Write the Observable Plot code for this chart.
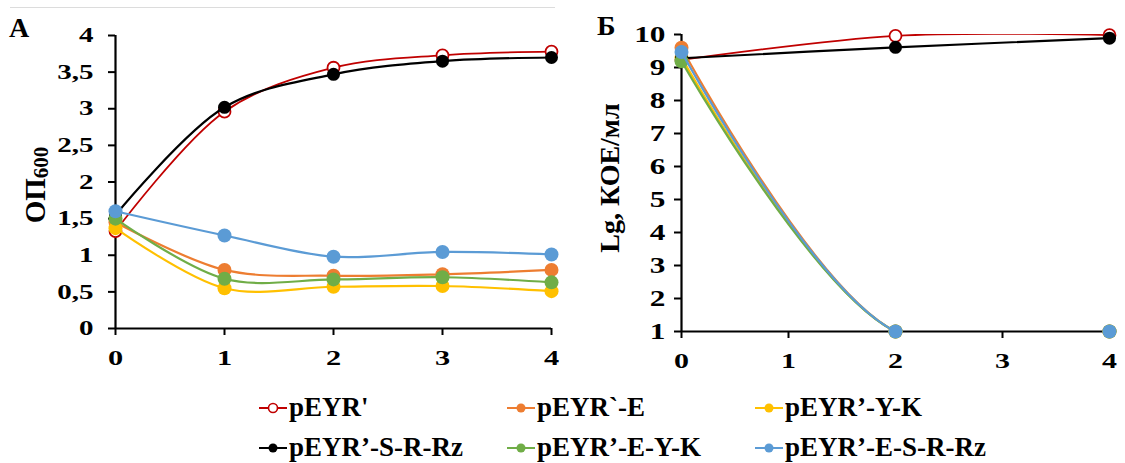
<!DOCTYPE html>
<html>
<head>
<meta charset="utf-8">
<script src="https://cdn.jsdelivr.net/npm/d3@7"></script>
<script src="https://cdn.jsdelivr.net/npm/@observablehq/plot@0.6"></script>
<style>
  html, body { margin: 0; padding: 0; background: #fff; }
  #root { position: relative; width: 1125px; height: 463px; overflow: hidden;
          font-family: "Liberation Serif", "Times New Roman", serif; font-weight: bold; color: #000; }
  .panel { position: absolute; top: 0; }
  .topline { position: absolute; left: 10px; top: 7px; width: 545px; height: 1px; background: #dcdcdc; }
  .plabel { position: absolute; font-size: 28px; font-weight: bold; line-height: 1; }
  .leg { position: absolute; display: flex; align-items: center; font-size: 27px; white-space: nowrap; line-height: 1; }
  .leg svg { margin-right: 1px; }
</style>
</head>
<body>
<div id="root">
  <div class="topline"></div>
  <div class="plabel" style="left:9px; top:14px;">А</div>
  <div class="plabel" style="left:597px; top:12px;">Б</div>
</div>
<script>
// ---- data ----
const seriesNames = ["pEYR'", "pEYR`-E", "pEYR’-Y-K", "pEYR’-S-R-Rz", "pEYR’-E-Y-K", "pEYR’-E-S-R-Rz"];
const seriesColors = ["#C00000", "#ED7D31", "#FFC000", "#000000", "#70AD47", "#5B9BD5"];

// Panel A: OD600 by day
const daysA = [0, 1, 2, 3, 4];
const odRed    = [1.33, 2.96, 3.56, 3.73, 3.78];
const odOrange = [1.45, 0.80, 0.72, 0.74, 0.80];
const odYellow = [1.37, 0.55, 0.57, 0.58, 0.51];
const odBlack  = [1.55, 3.02, 3.47, 3.65, 3.70];
const odGreen  = [1.50, 0.68, 0.67, 0.70, 0.63];
const odBlue   = [1.60, 1.27, 0.98, 1.045, 1.01];

// Panel Б: Lg CFU/ml by day
const daysB = [0, 2, 4];
const cfuRed    = [9.23, 9.96, 9.98];
const cfuOrange = [9.60, 1.0, 1.0];
const cfuYellow = [9.30, 1.0, 1.0];
const cfuBlack  = [9.28, 9.61, 9.89];
const cfuGreen  = [9.19, 1.0, 1.0];
const cfuBlue   = [9.47, 1.0, 1.0];

const xTicks = [0, 1, 2, 3, 4];
const yTicksA = [0, 0.5, 1, 1.5, 2, 2.5, 3, 3.5, 4];
const yTicksB = [1, 2, 3, 4, 5, 6, 7, 8, 9, 10];

// ---- build tables ----
const seriesA = [odRed, odOrange, odYellow, odBlack, odGreen, odBlue];
const seriesB = [cfuRed, cfuOrange, cfuYellow, cfuBlack, cfuGreen, cfuBlue];
function table(xs, sets) {
  return sets.map((vals, i) => vals.map((v, j) => ({series: seriesNames[i], x: xs[j], y: v})));
}
const tabA = table(daysA, seriesA);
const tabB = table(daysB, seriesB);

const fmt = d => String(d).replace(".", ",");
const FONT = "'Liberation Serif', 'Times New Roman', serif";
const dotR = [6, 7, 7, 6.5, 7, 7];

function seriesMarks(tab, clip) {
  return tab.flatMap((rows, i) => {
    const open = i === 0;
    return [
      Plot.line(rows, {x: "x", y: "y", stroke: seriesColors[i], strokeWidth: open ? 1.8 : 2.2, curve: "catmull-rom", clip}),
      Plot.dot(rows, {x: "x", y: "y", r: dotR[i],
        fill: open ? "#fff" : seriesColors[i],
        stroke: seriesColors[i], strokeWidth: open ? 1.8 : 0})
    ];
  });
}

function panel(opts) {
  return Plot.plot({
    width: opts.width, height: 380,
    marginLeft: opts.ml, marginRight: opts.mr, marginTop: opts.mt, marginBottom: opts.mb,
    style: {fontFamily: FONT, fontWeight: "bold", color: "#000", background: "transparent", overflow: "visible"},
    x: {domain: [0, 4]},
    y: {domain: opts.ydomain},
    marks: [
      Plot.axisY({ticks: opts.yticks, tickFormat: fmt, tickSize: 7, tickPadding: opts.ypad, strokeWidth: 2, label: null, fontSize: opts.yfs}),
      Plot.axisX({ticks: xTicks, tickFormat: fmt, tickSize: 7, tickPadding: 14, strokeWidth: 2, label: null, fontSize: 22}),
      Plot.ruleX([0], {stroke: "#000", strokeWidth: 2.2}),
      Plot.ruleY([opts.ydomain[0]], {stroke: "#000", strokeWidth: 2.2}),
      ...seriesMarks(opts.tab, opts.clip)
    ]
  });
}

// widen tick label glyphs horizontally (the reference's tick font is broad)
function widenTickLabels(svg, sx) {
  d3.select(svg).selectAll("g[aria-label$='tick label'] text").each(function() {
    const el = d3.select(this);
    let tr = el.attr("transform");
    if (!tr) {
      const x = +(el.attr("x") || 0), y = +(el.attr("y") || 0);
      el.attr("x", null).attr("y", null);
      tr = `translate(${x},${y})`;
    }
    el.attr("transform", `${tr} scale(${sx},1)`);
  });
}

const root = document.getElementById("root");

const left = panel({width: 565, ml: 115, mr: 14, mt: 35, mb: 52, ydomain: [0, 4], yticks: yTicksA, ypad: 15, yfs: 21, tab: tabA, clip: false});
left.classList.add("panel");
left.style.left = "0px";
widenTickLabels(left, 1.38);
root.appendChild(left);

const right = panel({width: 560, ml: 116, mr: 16, mt: 34, mb: 49, ydomain: [1, 10], yticks: yTicksB, ypad: 9, yfs: 23, tab: tabB, clip: true});
right.classList.add("panel");
right.style.left = "565px";
widenTickLabels(right, 1.36);
root.appendChild(right);

// axis titles
const tA = d3.select(left).append("text")
  .attr("transform", "translate(45,185) rotate(-90)")
  .attr("text-anchor", "middle")
  .attr("font-family", FONT).attr("font-weight", "bold").attr("font-size", 29).attr("fill", "#000");
tA.append("tspan").text("ОП");
tA.append("tspan").attr("font-size", 21).attr("dy", 3).text("600");

d3.select(right).append("text")
  .attr("transform", `translate(${619 - 565},178) rotate(-90)`)
  .attr("text-anchor", "middle")
  .attr("font-family", FONT).attr("font-weight", "bold").attr("font-size", 28).attr("fill", "#000")
  .text("Lg, КОЕ/мл");

// legend
const legX = [258, 506, 754];
const legY = [394, 434];
seriesNames.forEach((name, i) => {
  const col = i % 3, row = Math.floor(i / 3);
  const item = document.createElement("div");
  item.className = "leg";
  item.style.left = legX[col] + "px";
  item.style.top = legY[row] + "px";
  const s = d3.create("svg").attr("width", 30).attr("height", 20);
  s.append("line").attr("x1", 1).attr("x2", 29).attr("y1", 10).attr("y2", 10)
    .attr("stroke", seriesColors[i]).attr("stroke-width", 2);
  s.append("circle").attr("cx", 15).attr("cy", 10).attr("r", 4.5)
    .attr("fill", i === 0 ? "#fff" : seriesColors[i]).attr("stroke", seriesColors[i]).attr("stroke-width", i === 0 ? 1.6 : 0);
  item.appendChild(s.node());
  const t = document.createElement("span");
  t.textContent = name;
  item.appendChild(t);
  root.appendChild(item);
});
</script>
</body>
</html>
